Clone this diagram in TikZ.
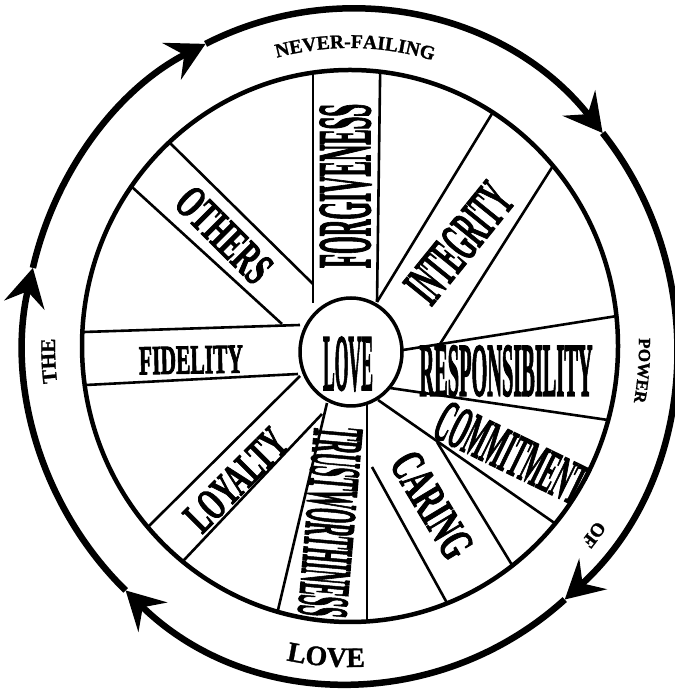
\documentclass[tikz,border=0pt]{standalone}
\usepackage{fontspec}
\setmainfont{Liberation Serif}
\newfontfamily\heavyfont{Liberation Serif Bold}[FakeBold=2.5]
\newfontfamily\rimfont{Liberation Serif Bold}[FakeBold=1.2]
\usetikzlibrary{arrows.meta,shapes.geometric,positioning,calc,decorations.text}

\begin{document}
\begin{tikzpicture}[
    x=1pt, y=1pt,
    rim/.style={line width=6.5pt, -{Stealth[length=38pt, width=41pt, inset=14pt]}},
    wheel/.style={line width=4.5pt},
    spoke/.style={line width=2.6pt},
    hub/.style={draw, ellipse, line width=3.5pt, minimum width=102pt, minimum height=108pt, inner sep=0pt},
    spk/.style={inner sep=0pt, font=\heavyfont},
    ringtxt/.style={decorate, decoration={text along path, text align=center, text={#1}}}
]
\useasboundingbox (0,0) rectangle (674,695);
\fill[white] (0,0) rectangle (674,695);
\coordinate (C) at (350,349);

% outer ring, running clockwise
\foreach \a/\b in {166.6/116.3, 116.3/39.2, 39.2/-48.8, -48.8/-133.5, -133.5/-193.4}
  \draw[rim] ($(C)+(\a:326pt and 337pt)$) arc[start angle=\a, end angle=\b, x radius=326pt, y radius=337pt];

% spokes of the wheel
\begin{scope}
  \clip (C) ellipse[x radius=268pt, y radius=276pt];
  \foreach \xa/\ya/\xb/\yb in {313/392/313/615, 377/393/380/612, 377/393/490/578, 440/351/551/526,
      403/345/617/379, 390/307/608/275, 378/295/553/173, 437/253/512/130, 372/228/447/92,
      367/292/367/75, 327/292/278/85, 300/319/151/171, 322/281/185/136, 300/370/84/363,
      298/321/86/310, 313/411/170/552, 282/371/132/508}
    \draw[spoke] (\xa,\ya) -- ($(\xa,\ya)!4!(\xb,\yb)$);
\end{scope}
\draw[wheel] (C) ellipse[x radius=268pt, y radius=276pt];

\node[hub] (hub) at (351,343) {};
\node[spk] (love) at (348,331) {\resizebox{50pt}{53pt}{LOVE}};
\node[spk, rotate=90] (forg) at (345.5,509) {\resizebox{164pt}{50pt}{FORGIVENESS}};
\node[spk, rotate=-45] (othr) at (224,460) {\resizebox{115pt}{31pt}{OTHERS}};
\node[spk, rotate=1] (fidl) at (191,335) {\resizebox{104pt}{27pt}{FIDELITY}};
\node[spk, rotate=45] (loyl) at (236,215) {\resizebox{125pt}{30pt}{LOYALTY}};
\node[spk, rotate=-95] (trst) at (330,173) {\resizebox{190pt}{48pt}{TRUSTWORTHINESS}};
\node[spk, rotate=-59] (carg) at (432,190) {\resizebox{115pt}{32pt}{CARING}};
\node[spk, rotate=-26] (cmmt) at (511,242) {\resizebox{160pt}{40pt}{COMMITMENT}};
\node[spk] (rspn) at (506,324) {\resizebox{173pt}{50pt}{RESPONSIBILITY}};
\node[spk, rotate=51] (intg) at (459,452) {\resizebox{135pt}{38pt}{INTEGRITY}};

% words round the rim
\path[ringtxt={|\fontsize{19.5}{20}\selectfont\rimfont|NEVER-FAILING}]
  ($(C)+(119:289pt and 298pt)$) arc[start angle=119, end angle=59, x radius=289pt, y radius=298pt];
\path[ringtxt={|\fontsize{17}{18}\selectfont\rimfont|POWER}]
  ($(C)+(10.3:289pt and 298pt)$) arc[start angle=10.3, end angle=-19.7, x radius=289pt, y radius=298pt];
\path[ringtxt={|\fontsize{19}{20}\selectfont\rimfont|OF}]
  ($(C)+(-25:299pt and 308pt)$) arc[start angle=-25, end angle=-49, x radius=299pt, y radius=308pt];
\path[ringtxt={|\fontsize{21}{22}\selectfont\rimfont|THE}]
  ($(C)+(197.8:295pt and 304pt)$) arc[start angle=197.8, end angle=167.8, x radius=295pt, y radius=304pt];
\path[ringtxt={|\fontsize{28}{29}\selectfont\rimfont|LOVE}]
  ($(C)+(248:312pt and 321pt)$) arc[start angle=248, end angle=283, x radius=312pt, y radius=321pt];
\end{tikzpicture}
\end{document}
